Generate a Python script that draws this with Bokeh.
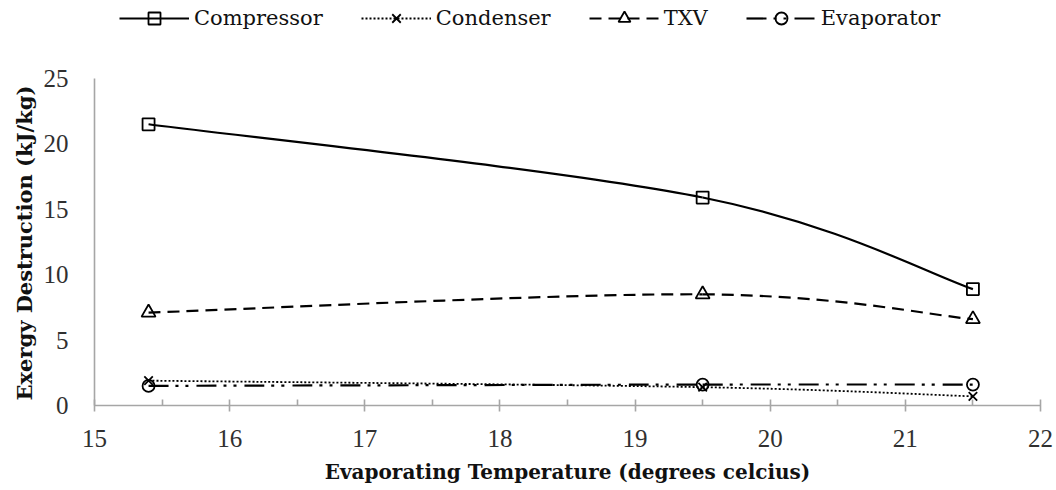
from bokeh.plotting import figure
from bokeh.models import Legend, LegendItem, Range1d, FixedTicker, Title
from bokeh.embed import file_html
from bokeh.resources import INLINE

# ---- data ----
temps = [15.4, 19.5, 21.5]
compressor = [21.5, 15.9, 8.9]
condenser = [1.9, 1.4, 0.7]
txv = [7.1, 8.5, 6.6]
evaporator = [1.5, 1.6, 1.6]

x_ticks = [15, 16, 17, 18, 19, 20, 21, 22]
y_ticks = [0, 5, 10, 15, 20, 25]

FONT = "DejaVu Serif"
TICK_FONT = "Liberation Serif"

# frame spans the full height (legend lives in its top part); the y axis is drawn 0..25 only
FRAME_H = 405.0
AXIS_H = 327.0
y_top = y_ticks[-1] * FRAME_H / AXIS_H

p = figure(width=1056, height=490, output_backend="svg", toolbar_location=None,
           x_range=Range1d(15, 22), y_range=Range1d(0, y_top),
           min_border_left=94, min_border_right=16, min_border_top=0, min_border_bottom=85)
p.outline_line_color = None
p.xgrid.grid_line_color = None
p.ygrid.grid_line_color = None
p.background_fill_color = "white"
p.border_fill_color = "white"

AX = "#a6a6a6"
p.xaxis.ticker = FixedTicker(ticks=x_ticks, minor_ticks=[t + 0.5 for t in x_ticks[:-1]])
p.yaxis.ticker = FixedTicker(ticks=y_ticks)
p.yaxis.bounds = (y_ticks[0], y_ticks[-1])
for ax in (p.xaxis[0], p.yaxis[0]):
    ax.axis_line_color = AX
    ax.axis_line_width = 1.6
    ax.major_tick_line_color = AX
    ax.major_tick_line_width = 1.6
    ax.minor_tick_line_color = AX
    ax.minor_tick_line_width = 1.6
    ax.major_label_text_font = TICK_FONT
    ax.major_label_text_font_size = "25px"
    ax.major_label_text_color = "#303030"
    ax.axis_label_text_font = FONT
    ax.axis_label_text_font_size = "20px"
    ax.axis_label_text_font_style = "bold"
    ax.axis_label_text_color = "#111111"

p.xaxis.major_tick_in = 6
p.xaxis.major_tick_out = 6
p.xaxis.minor_tick_in = 6
p.xaxis.minor_tick_out = 0
p.xaxis.major_label_standoff = 18
p.xaxis.axis_label_standoff = 10
p.xaxis.axis_label = "Evaporating Temperature (degrees celcius)"

p.yaxis.major_tick_in = 0
p.yaxis.major_tick_out = 0
p.yaxis.minor_tick_in = 0
p.yaxis.minor_tick_out = 0
p.yaxis.major_label_standoff = 26

# y title as a side Title so it can sit along the 0..25 part of the axis
ytitle = Title(text="Exergy Destruction (kJ/kg)", align="left", offset=5,
               text_font=FONT, text_font_size="21px", text_font_style="bold",
               text_color="#111111", standoff=8)
p.add_layout(ytitle, "left")


def smooth_segments(xs, ys, t=1.0 / 6.0):
    """Bezier control points (Excel-like smoothed line) from the data points."""
    n = len(xs)
    segs = dict(x0=[], y0=[], x1=[], y1=[], cx0=[], cy0=[], cx1=[], cy1=[])
    for i in range(n - 1):
        a = max(i - 1, 0)
        b = min(i + 2, n - 1)
        segs["x0"].append(xs[i]); segs["y0"].append(ys[i])
        segs["x1"].append(xs[i + 1]); segs["y1"].append(ys[i + 1])
        segs["cx0"].append(xs[i] + (xs[i + 1] - xs[a]) * t)
        segs["cy0"].append(ys[i] + (ys[i + 1] - ys[a]) * t)
        segs["cx1"].append(xs[i + 1] - (xs[b] - xs[i]) * t)
        segs["cy1"].append(ys[i + 1] - (ys[b] - ys[i]) * t)
    return segs


series = [
    ("Compressor", compressor, "solid", 2.2, "square", 12),
    ("Condenser", condenser, "2 2", 1.8, "x", 12),
    ("TXV", txv, "12 7", 2.2, "triangle", 14),
    ("Evaporator", evaporator, "20 7 3 7 3 8", 2.2, "circle", 12),
]

NAN = float("nan")
items = []
for name, ys, dash, lw, marker, size in series:
    s = smooth_segments(temps, ys)
    p.bezier(x0=s["x0"], y0=s["y0"], x1=s["x1"], y1=s["y1"],
             cx0=s["cx0"], cy0=s["cy0"], cx1=s["cx1"], cy1=s["cy1"],
             line_color="black", line_width=lw, line_dash=dash)
    # legend-only proxy line (draws nothing in the plot)
    leg_line = p.line(x=[NAN, NAN], y=[NAN, NAN], line_color="black", line_width=lw, line_dash=dash)
    sc = p.scatter(temps, ys, marker=marker, size=size, fill_color=None,
                   line_color="black", line_width=1.8)
    items.append(LegendItem(label=name, renderers=[leg_line, sc]))

legend = Legend(items=items, orientation="horizontal", location=(25, 372),
                glyph_width=70, glyph_height=30, label_standoff=5, spacing=38,
                padding=0, margin=0, border_line_color=None, background_fill_alpha=0,
                label_text_font=FONT, label_text_font_size="21px", label_text_color="#111111")
p.add_layout(legend, "center")

open("out.html", "w").write(file_html(p, INLINE))
